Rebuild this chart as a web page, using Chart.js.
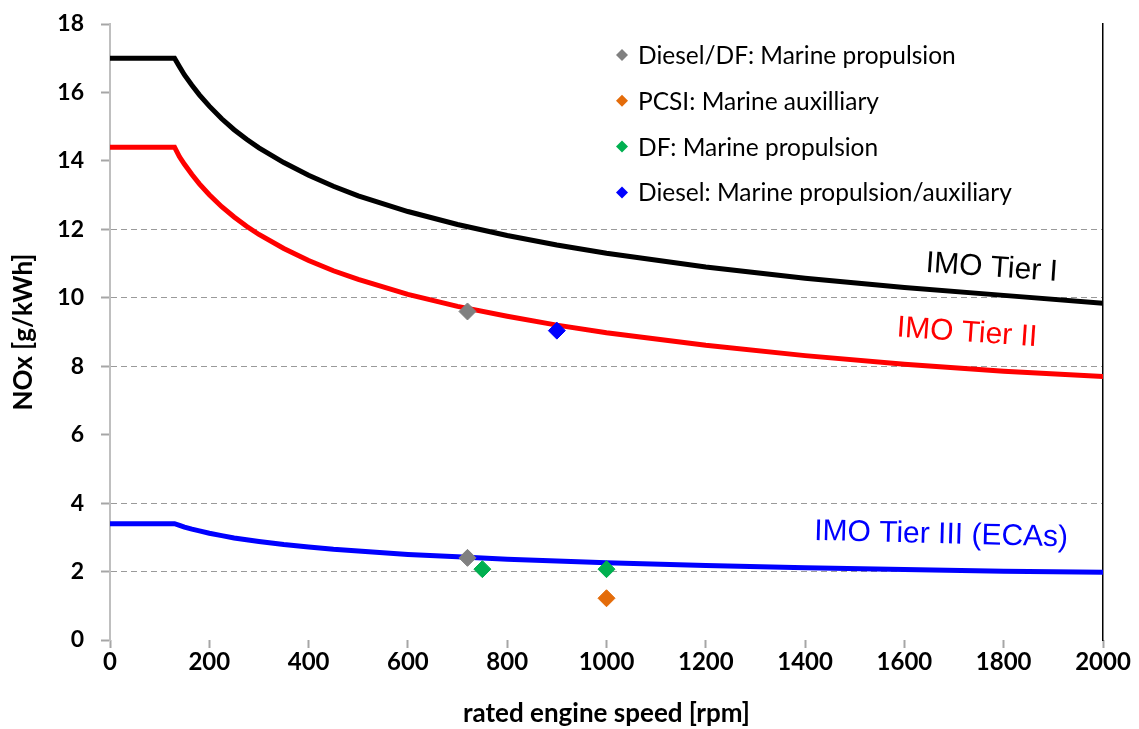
<!DOCTYPE html>
<html lang="en">
<head>
  <meta charset="UTF-8">
  <title>IMO NOx limits</title>
  <script src="https://cdn.jsdelivr.net/npm/chart.js"></script>
  <style>
    html, body { margin: 0; padding: 0; background: #fff; }
    #box { width: 1139px; height: 729px; }
  </style>
</head>
<body>
  <div id="box"><canvas id="chartNox"></canvas></div>
<script>
  // limit curves
  const rpm = [0, 130, 140, 150, 165, 180, 200, 225, 250, 275, 300, 350, 400, 450, 500, 600, 700, 800, 900, 1000, 1200, 1400, 1600, 1800, 2000];
  const tier1 = [17, 17, 16.75, 16.51, 16.21, 15.93, 15.6, 15.23, 14.91, 14.63, 14.38, 13.95, 13.58, 13.26, 12.98, 12.52, 12.14, 11.82, 11.54, 11.3, 10.9, 10.57, 10.3, 10.07, 9.84];
  const tier2 = [14.4, 14.4, 14.12, 13.9, 13.6, 13.33, 13.01, 12.66, 12.36, 12.09, 11.85, 11.44, 11.09, 10.79, 10.54, 10.1, 9.75, 9.46, 9.2, 8.98, 8.61, 8.31, 8.06, 7.85, 7.7];
  const tier3 = [3.4, 3.4, 3.35, 3.3, 3.24, 3.19, 3.12, 3.05, 2.98, 2.93, 2.88, 2.79, 2.72, 2.65, 2.6, 2.5, 2.43, 2.36, 2.31, 2.26, 2.18, 2.11, 2.06, 2.01, 1.98];
  const tierNames = ['IMO Tier I', 'IMO Tier II', 'IMO Tier III (ECAs)'];
  const tierColors = ['#000000', '#ff0000', '#0000ff'];

  // engines
  const engineNames = ['Diesel/DF: Marine propulsion', 'PCSI: Marine auxilliary', 'DF: Marine propulsion', 'Diesel: Marine propulsion/auxiliary'];
  const engineColors = ['#808080', '#e46c0a', '#00b050', '#0000ff'];
  const engineRpm = [[720, 720], [1000], [750, 1000], [900]];
  const engineNox = [[9.6, 2.4], [1.22], [2.07, 2.07], [9.04]];

  const xTicks = [0, 200, 400, 600, 800, 1000, 1200, 1400, 1600, 1800, 2000];
  const yGridShown = [2, 4, 8, 10, 12];

  const toPts = (xs, ys) => xs.map((v, i) => ({ x: v, y: ys[i] }));

  const datasets = [];
  engineNames.forEach((name, i) => {
    datasets.push({
      type: 'scatter',
      label: name,
      data: toPts(engineRpm[i], engineNox[i]),
      pointStyle: 'rectRot',
      pointRadius: 8.5,
      backgroundColor: engineColors[i],
      borderColor: engineColors[i],
      borderWidth: 1,
      order: 0
    });
  });
  [tier1, tier2, tier3].forEach((vals, i) => {
    datasets.push({
      type: 'line',
      label: tierNames[i],
      data: toPts(rpm, vals),
      borderColor: tierColors[i],
      borderWidth: 5,
      pointRadius: 0,
      tension: 0,
      fill: false,
      order: 1
    });
  });

  // legend drawn inside the plot, only for the engine markers
  const markerLegend = {
    id: 'markerLegend',
    afterDraw(chart, args, opts) {
      const ctx = chart.ctx;
      ctx.save();
      ctx.font = opts.font;
      ctx.textBaseline = 'middle';
      ctx.textAlign = 'left';
      chart.data.datasets.filter(d => d.type == 'scatter').forEach((d, i) => {
        const y = opts.top + i * opts.step;
        const r = 6;
        ctx.fillStyle = d.backgroundColor;
        ctx.beginPath();
        ctx.moveTo(opts.left, y - r);
        ctx.lineTo(opts.left + r, y);
        ctx.lineTo(opts.left, y + r);
        ctx.lineTo(opts.left - r, y);
        ctx.closePath();
        ctx.fill();
        ctx.fillStyle = '#000';
        ctx.fillText(d.label, opts.left + 16, y + 1);
      });
      ctx.restore();
    }
  };

  const tierLabels = {
    id: 'tierLabels',
    afterDatasetsDraw(chart, args, opts) {
      const { ctx, scales: { x, y } } = chart;
      ctx.save();
      ctx.font = opts.font;
      ctx.textAlign = 'center';
      ctx.textBaseline = 'middle';
      opts.items.forEach(it => {
        ctx.save();
        ctx.translate(x.getPixelForValue(it.rpm), y.getPixelForValue(it.nox));
        ctx.rotate(it.angle * Math.PI / 180);
        ctx.fillStyle = it.color;
        ctx.fillText(it.text, 0, 0);
        ctx.restore();
      });
      ctx.restore();
    }
  };

  // fixed axis sizes so the plot sits where the original does
  function fixY(w) {
    return s => { s.width = w; s.paddingTop = 0; s.paddingBottom = 0; };
  }

  new Chart(document.getElementById('chartNox'), {
    type: 'line',
    data: { datasets: datasets },
    plugins: [markerLegend, tierLabels],
    options: {
      responsive: true,
      maintainAspectRatio: false,
      animation: false,
      layout: { padding: { top: 24, right: 36, left: 0, bottom: 0 } },
      plugins: {
        legend: { display: false },
        tooltip: { enabled: false },
        markerLegend: { left: 622, top: 55, step: 45.8, font: '24.5px Lato' },
        tierLabels: {
          font: '30px "Liberation Sans"',
          items: [
            { text: tierNames[0], color: tierColors[0], rpm: 1776, nox: 10.87, angle: 4 },
            { text: tierNames[1], color: tierColors[1], rpm: 1726, nox: 8.97, angle: 4 },
            { text: tierNames[2], color: tierColors[2], rpm: 1674, nox: 3.07, angle: 1.5 }
          ]
        }
      },
      scales: {
        x: {
          type: 'linear',
          min: 0,
          max: 2000,
          afterBuildTicks: s => { s.ticks = xTicks.map(v => ({ value: v })); },
          afterFit: s => { s.height = 89; s.paddingLeft = 0; s.paddingRight = 0; },
          border: { display: false },
          grid: { drawOnChartArea: false, drawTicks: true, tickLength: 8, tickColor: '#a6a6a6', tickWidth: 2 },
          ticks: {
            color: '#000', padding: 0, maxRotation: 0,
            font: { family: 'Lato', size: 24, weight: 'bold' },
            callback: v => String(v)
          },
          title: {
            display: true,
            text: 'rated engine speed [rpm]',
            color: '#000',
            padding: { top: 0, bottom: 0 },
            font: { family: 'Lato', size: 26, weight: 'bold' }
          }
        },
        y: {
          min: 0,
          max: 18,
          ticks: { stepSize: 2, color: '#000', padding: 17, font: { family: 'Lato', size: 23, weight: 'bold' } },
          afterFit: fixY(110),
          border: { display: true, color: '#bfbfbf', width: 2, dash: [6, 4] },
          grid: {
            color: c => yGridShown.includes(c.tick.value) ? '#9a9a9a' : 'rgba(0,0,0,0)',
            lineWidth: 1,
            tickColor: '#a6a6a6',
            tickLength: 9,
            tickWidth: 2
          },
          title: {
            display: true,
            text: 'NOx [g/kWh]',
            color: '#000',
            padding: { top: 8, bottom: 0 },
            font: { family: 'Lato', size: 26, weight: 'bold' }
          }
        },
        y2: {
          position: 'right',
          min: 0,
          max: 18,
          afterFit: fixY(0),
          grid: { display: false },
          ticks: { display: false },
          border: { display: true, color: '#000', width: 1.5 }
        }
      }
    }
  });
</script>
</body>
</html>
